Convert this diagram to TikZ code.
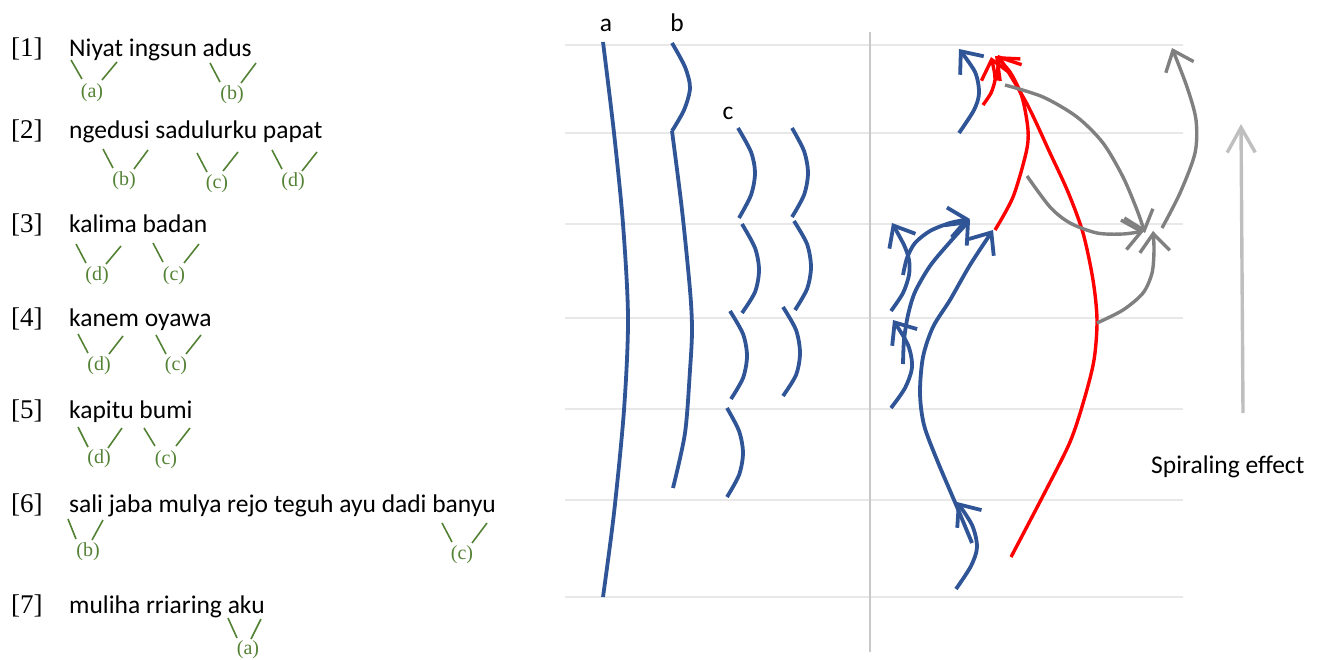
\documentclass[tikz,border=0pt]{standalone}
\usepackage{fontspec}
\setmainfont{Carlito}
\newfontfamily\numfont{Liberation Serif}
\usetikzlibrary{arrows.meta}
\definecolor{myblue}{HTML}{2F5597}
\definecolor{mygreen}{HTML}{548235}
\definecolor{mygray}{HTML}{808080}
\definecolor{pale}{HTML}{BFBFBF}
\definecolor{gridgray}{HTML}{E8E8E8}
\definecolor{axisgray}{HTML}{C8C8C8}
\begin{document}
\begin{tikzpicture}[x=1pt,y=-1pt,
  txt/.style={anchor=base west, inner sep=0pt, font=\fontsize{25.5}{30}\selectfont},
  num/.style={anchor=base west, inner sep=0pt, font=\numfont\fontsize{27}{30}\selectfont},
  glab/.style={inner sep=0pt, text=mygreen, font=\numfont\fontsize{20}{22}\selectfont},
  vl/.style={draw=mygreen, line width=1.6pt},
  gridline/.style={draw=gridgray, line width=1.5pt},
  wave/.style={draw=myblue, line width=3.8pt},
  redc/.style={draw=red, line width=3.4pt},
  grayc/.style={draw=mygray, line width=3.4pt},
  barb/.style={-{Straight Barb[length=18pt,width=30pt]}},
  bigbarb/.style={-{Straight Barb[length=25pt,width=28pt]}}
]
\useasboundingbox (0,0) rectangle (1332,660);

% ---------- left: text rows ----------
\node[num] (n1) at (11,57) {[1]};
\node[txt] (t1) at (69,57) {Niyat ingsun adus};
\node[num] (n2) at (11,139) {[2]};
\node[txt] (t2) at (69,139) {ngedusi sadulurku papat};
\node[num] (n3) at (11,233) {[3]};
\node[txt] (t3) at (69,233) {kalima badan};
\node[num] (n4) at (11,326) {[4]};
\node[txt] (t4) at (69,326) {kanem oyawa};
\node[num] (n5) at (11,418) {[5]};
\node[txt] (t5) at (69,418) {kapitu bumi};
\node[num] (n6) at (11,512) {[6]};
\node[txt] (t6) at (69,512) {sali jaba mulya rejo teguh ayu dadi banyu};
\node[num] (n7) at (11,613) {[7]};
\node[txt] (t7) at (69,613) {muliha rriaring aku};

% green markers
\draw[vl] (71,60) -- (82,79) (117,62) -- (102,80);
\node[glab] (g1a) at (92,93) {(a)};
\draw[vl] (210,63) -- (220,82) (256,63) -- (241,83);
\node[glab] (g1b) at (232,95) {(b)};

\draw[vl] (103,149) -- (113,168) (148,150) -- (134,169);
\node[glab] (g2b) at (124,181) {(b)};
\draw[vl] (197,153) -- (207,172) (238,152) -- (223,171);
\node[glab] (g2c) at (217,184) {(c)};
\draw[vl] (272,150) -- (282,169) (317,152) -- (302,171);
\node[glab] (g2d) at (293,182) {(d)};

\draw[vl] (76,244) -- (86,263) (121,246) -- (106,264);
\node[glab] (g3d) at (97,276) {(d)};
\draw[vl] (153,243) -- (163,262) (199,244) -- (184,263);
\node[glab] (g3c) at (174,276) {(c)};

\draw[vl] (78,334) -- (88,353) (123,336) -- (109,354);
\node[glab] (g4d) at (99,366) {(d)};
\draw[vl] (156,335) -- (166,354) (201,335) -- (186,354);
\node[glab] (g4c) at (176,366) {(c)};

\draw[vl] (78,427) -- (88,447) (122,428) -- (108,448);
\node[glab] (g5d) at (99,459) {(d)};
\draw[vl] (144,428) -- (155,446) (190,428) -- (176,446);
\node[glab] (g5c) at (166,460) {(c)};

\draw[vl] (68,519) -- (76,539) (103,520) -- (92,540);
\node[glab] (g6b) at (88,552) {(b)};
\draw[vl] (442,523) -- (452,542) (487,523) -- (472,543);
\node[glab] (g6c) at (462,555) {(c)};

\draw[vl] (228,618) -- (237,638) (261,619) -- (251,639);
\node[glab] (g7a) at (248,650) {(a)};

% ---------- right: grid ----------
\foreach \yy in {45,133,224,318,409,500,597}
  \draw[gridline] (565,\yy) -- (1183,\yy);
\draw[draw=axisgray, line width=1.8pt] (870,32) -- (870,652);

% labels a b c
\node[txt, anchor=base] (la) at (606,32) {a};
\node[txt, anchor=base] (lb) at (677,32) {b};
\node[txt, anchor=base] (lc) at (728,120) {c};

% curve a
\draw[wave] plot[smooth] coordinates {(603,42) (614,133) (623,224) (628,318) (624,410) (614,513) (603,597)};
% curve b
\draw[wave] plot[smooth] coordinates {(672,43) (685,67) (690,88) (684,110) (672,131)};
\draw[wave] plot[smooth] coordinates {(672,131) (682,210) (690,290) (692,330) (690,370) (685,433) (673,488)};
% c segments
\draw[wave] plot[smooth] coordinates {(738,128) (751,152) (755,173) (751,195) (739,218)};
\draw[wave] plot[smooth] coordinates {(742,224) (755,248) (759,270) (755,292) (742,313)};
\draw[wave] plot[smooth] coordinates {(730,311) (743,334) (747,356) (743,378) (731,399)};
\draw[wave] plot[smooth] coordinates {(727,408) (739,431) (743,453) (739,475) (727,497)};
\draw[wave] plot[smooth] coordinates {(792,128) (804,151) (808,173) (804,195) (792,217)};
\draw[wave] plot[smooth] coordinates {(794,221) (807,244) (811,267) (807,289) (795,310)};
\draw[wave] plot[smooth] coordinates {(783,307) (796,330) (800,353) (796,375) (783,396)};

% ---------- right: spiral arrows ----------
% blue
\draw[wave, barb] plot[smooth] coordinates {(959,133) (974,110) (979,93) (975,72) (959,49)};
\draw[wave, barb] plot[smooth] coordinates {(891,311) (903,293) (909,275) (909,260) (904,245) (892,223)};
\draw[wave, barb] plot[smooth] coordinates {(903,275) (907,258) (915,243) (930,231) (950,223) (970,219)};
\draw[wave, barb] plot[smooth] coordinates {(903,364) (904,340) (908,315) (915,292) (930,266) (950,242) (970,220)};
\draw[wave, barb] plot[smooth] coordinates {(891,408) (905,388) (912,367) (908,345) (893,320)};
\draw[wave, barb] plot[smooth] coordinates {(972,543) (957,507) (937,460) (924,425) (920,393) (923,357) (933,327) (950,300) (970,265) (993,230)};
\draw[wave, barb] plot[smooth] coordinates {(956,589) (971,566) (977,547) (972,525) (957,502)};

% red
\draw[redc, barb] plot[smooth] coordinates {(983,105) (991,93) (995,80) (994,70) (991,57)};
\draw[redc, barb] plot[smooth] coordinates {(995,230) (1013,197) (1026,153) (1028,130) (1022,97) (1010,72) (995,56)};
\draw[redc, barb] plot[smooth] coordinates {(1011,557) (1045,492) (1070,442) (1084,400) (1094,360) (1097,320) (1093,280) (1083,233) (1068,192) (1050,153) (1027,104) (998,55)};

% gray
\draw[grayc, barb] plot[smooth] coordinates {(1005,85) (1043,97) (1077,117) (1103,143) (1123,177) (1137,210) (1145,233)};
\draw[grayc, barb] plot[smooth] coordinates {(1027,176) (1050,207) (1070,223) (1097,233) (1123,234) (1144,231)};
\draw[grayc, barb] plot[smooth] coordinates {(1097,323) (1123,310) (1143,293) (1152,273) (1154,250) (1153,231)};
\draw[grayc, barb] plot[smooth] coordinates {(1162,228) (1180,193) (1195,153) (1196,120) (1187,87) (1172,48)};

% pale arrow + label
\coordinate (sb) at (1243,413);
\coordinate (st) at (1241,124);
\draw[draw=pale, line width=3.4pt, bigbarb] (sb) -- (st);
\node[txt] (spir) at (1151,473) {Spiraling effect};
\end{tikzpicture}
\end{document}
